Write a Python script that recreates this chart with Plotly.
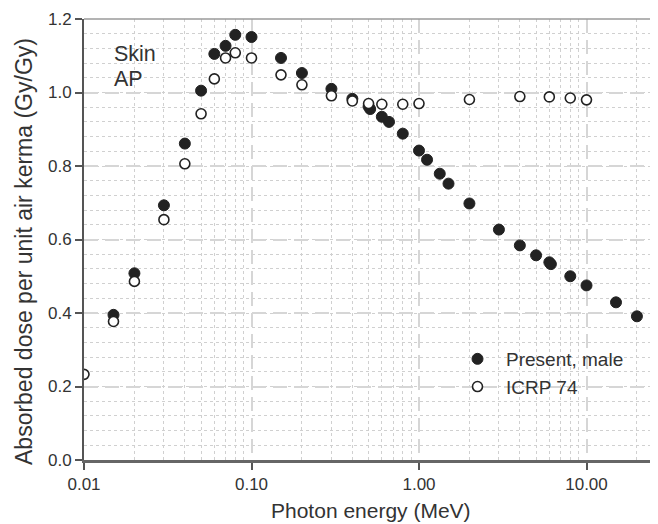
import plotly.graph_objects as go

# Data
present_energy = [0.015, 0.02, 0.03, 0.04, 0.05, 0.06, 0.07, 0.08, 0.1, 0.15, 0.2, 0.3, 0.4,
                  0.5, 0.511, 0.6, 0.662, 0.8, 1.0, 1.117, 1.33, 1.5, 2.0, 3.0, 4.0, 5.0,
                  6.0, 6.129, 8.0, 10.0, 15.0, 20.0]
present_dose = [0.395, 0.508, 0.693, 0.861, 1.005, 1.105, 1.127, 1.157, 1.151, 1.094, 1.053,
                1.010, 0.983, 0.962, 0.955, 0.934, 0.920, 0.888, 0.842, 0.817, 0.779, 0.752,
                0.698, 0.627, 0.584, 0.557, 0.538, 0.533, 0.500, 0.475, 0.429, 0.391]

icrp_energy = [0.01, 0.015, 0.02, 0.03, 0.04, 0.05, 0.06, 0.07, 0.08, 0.1, 0.15, 0.2, 0.3,
               0.4, 0.5, 0.6, 0.8, 1.0, 2.0, 4.0, 6.0, 8.0, 10.0]
icrp_dose = [0.233, 0.377, 0.486, 0.654, 0.806, 0.942, 1.037, 1.094, 1.108, 1.094, 1.048,
             1.021, 0.991, 0.977, 0.970, 0.968, 0.968, 0.970, 0.981, 0.989, 0.988, 0.985, 0.980]

x_tickvals = [0.01, 0.1, 1.0, 10.0]
x_ticktext = ["0.01", "0.10", "1.00", "10.00"]
y_tickvals = [0.0, 0.2, 0.4, 0.6, 0.8, 1.0, 1.2]
y_ticktext = ["0.0", "0.2", "0.4", "0.6", "0.8", "1.0", "1.2"]

FONT = "Liberation Sans, Arial, sans-serif"
TXT = "#333333"

fig = go.Figure()
fig.add_trace(go.Scatter(
    x=present_energy, y=present_dose, mode="markers", name="Present, male",
    legendrank=1,
    marker=dict(symbol="circle", size=11, color="#222222", line=dict(color="#222222", width=1)),
))
fig.add_trace(go.Scatter(
    x=icrp_energy, y=icrp_dose, mode="markers", name="ICRP 74",
    legendrank=2,
    marker=dict(symbol="circle", size=10, color="white", line=dict(color="#222222", width=1.6)),
))

# The page places the figure 8px from the top-left corner of the window.
OFF = 8
WIN_W, WIN_H = 658, 524
W, H = WIN_W - OFF, WIN_H - OFF
# plot area in window pixels: left 84, top 19, bottom 460, right = window edge
ml, mt = 84 - OFF, 19 - OFF
mb = H - (460 - OFF)
mr = 0
PW, PH = W - ml - mr, H - mt - mb
decade_px = 167.5
xmax_log = -2 + PW / decade_px


def px_x(px):
    return (px - OFF - ml) / PW


def px_y(py):
    return 1 - (py - OFF - mt) / PH


MAJOR_DASH = "14px,7px"

fig.update_layout(
    width=W, height=H,
    margin=dict(l=ml, r=mr, t=mt, b=mb, autoexpand=False),
    paper_bgcolor="white", plot_bgcolor="white",
    font=dict(family=FONT, color=TXT, size=17),
    showlegend=True,
    legend=dict(x=px_x(449), y=px_y(340), xanchor="left", yanchor="top",
                bgcolor="rgba(0,0,0,0)", font=dict(size=19, color=TXT),
                tracegroupgap=0, itemwidth=47),
    xaxis=dict(
        type="log", range=[-2, xmax_log], automargin=False,
        tickvals=x_tickvals, ticktext=x_ticktext,
        ticks="outside", ticklen=7, tickcolor="#555555", tickwidth=1.5,
        showline=True, linecolor="#666666", linewidth=2.5,
        showgrid=True, gridcolor="#d6d6d6", gridwidth=1.5, griddash=MAJOR_DASH,
        minor=dict(tickvals=[m * 10 ** e for e in (-2, -1, 0, 1) for m in range(2, 10)],
                   showgrid=True, gridcolor="#d0d0d0", gridwidth=1, griddash="dot", ticks=""),
        tickfont=dict(size=17, color=TXT),
        zeroline=False,
    ),
    yaxis=dict(
        range=[0, 1.2], automargin=False,
        tickvals=y_tickvals, ticktext=y_ticktext,
        ticks="outside", ticklen=7, tickcolor="#555555", tickwidth=1.5,
        showline=True, linecolor="#555555", linewidth=2,
        showgrid=True, gridcolor="#d6d6d6", gridwidth=1.5, griddash=MAJOR_DASH,
        minor=dict(dtick=0.04, tick0=0, showgrid=True, gridcolor="#d0d0d0", gridwidth=1,
                   griddash="dot", ticks=""),
        tickfont=dict(size=17, color=TXT),
        zeroline=False,
    ),
    annotations=[
        dict(text="Skin", xref="paper", yref="paper", x=px_x(112), y=px_y(54),
             xanchor="left", yanchor="middle", showarrow=False, font=dict(size=21.5, color=TXT)),
        dict(text="AP", xref="paper", yref="paper", x=px_x(112), y=px_y(79),
             xanchor="left", yanchor="middle", showarrow=False, font=dict(size=21.5, color=TXT)),
        dict(text="Photon energy (MeV)", xref="paper", yref="paper", x=px_x(371), y=px_y(510),
             xanchor="center", yanchor="middle", showarrow=False, font=dict(size=21, color=TXT)),
        dict(text="Absorbed dose per unit air kerma (Gy/Gy)", xref="paper", yref="paper",
             x=px_x(24), y=px_y(252), xanchor="center", yanchor="middle", textangle=-90,
             showarrow=False, font=dict(size=23, color=TXT)),
    ],
    shapes=[dict(type="line", xref="paper", yref="paper", x0=0, x1=1, y0=1, y1=1,
                 line=dict(color="#9a9a9a", width=1.5), layer="above")],
)

fig.write_html("out.html")
